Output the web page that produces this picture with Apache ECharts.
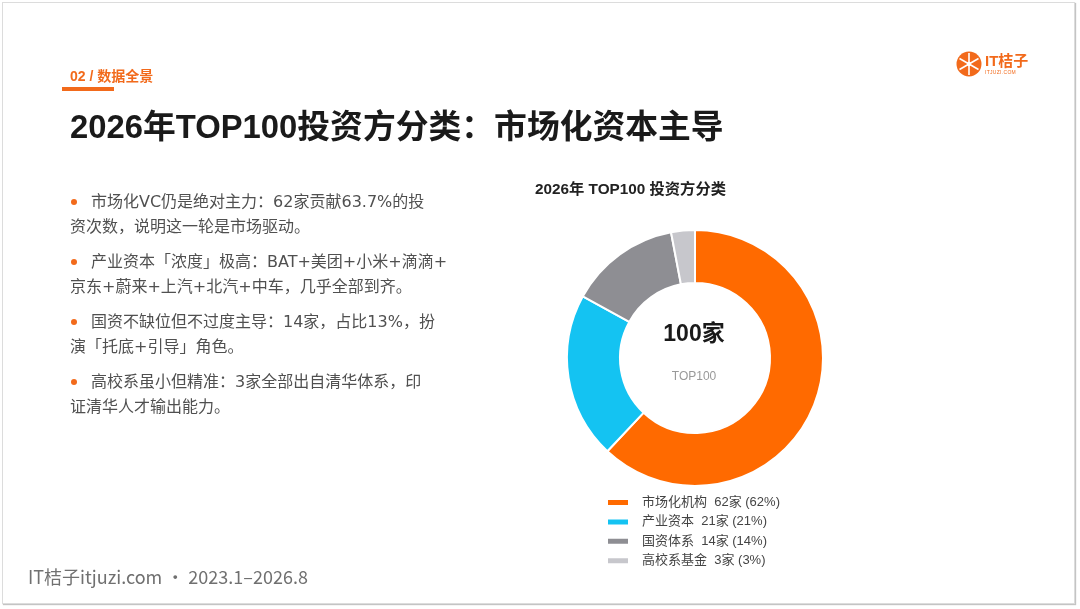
<!DOCTYPE html>
<html>
<head>
<meta charset="utf-8">
<script src="https://cdn.jsdelivr.net/npm/echarts@6/dist/echarts.min.js"></script>
<style>
  html, body { margin:0; padding:0; width:1080px; height:609px; background:#fff; overflow:hidden;
    font-family:"Liberation Sans","Noto Sans CJK SC",sans-serif; }
  #frame { position:absolute; left:2px; top:2px; width:1073px; height:602px; border:1px solid #dcdcdc;
    box-shadow:1px 1px 1px #c4c4c4; box-sizing:border-box; }
  #chart { position:absolute; left:0; top:0; width:1080px; height:609px; }
  .ov { position:absolute; z-index:5; pointer-events:none; white-space:nowrap; }
  #sec { left:70px; top:66px; font-size:14px; font-weight:bold; color:#F26A1B; line-height:20px; }
  #secbar { left:62px; top:87px; width:52px; height:4px; background:#F26A1B; }
  #title { left:70px; top:106px; font-size:32.8px; font-weight:bold; color:#1a1a1a; line-height:42px; }
  #bullets { left:70px; top:189px; font-size:16px; color:#505050; line-height:25px;
    font-family:"DejaVu Sans","Noto Sans CJK SC",sans-serif; }
  #bullets p { margin:0 0 10px 0; position:relative; text-indent:21px; }
  #bullets p::before { content:""; position:absolute; left:1px; top:10px; width:6px; height:6px;
    border-radius:50%; background:#F26A1B; }
  #foot { left:28px; top:564px; font-size:18px; color:#707070; line-height:24px;
    font-family:"Noto Sans CJK SC",sans-serif; }
  #logo { left:956px; top:51px; }
  #logotxt { left:985px; top:52px; font-size:15px; font-weight:bold; color:#F26A1B; line-height:17px; }
  #logosub { left:985px; top:69px; font-size:5px; color:#F26A1B; line-height:6px; letter-spacing:0.3px; }
</style>
</head>
<body>
<div id="frame"></div>
<div id="chart"></div>
<div class="ov" id="sec">02 / 数据全景</div>
<div class="ov" id="secbar"></div>
<div class="ov" id="title">2026年TOP100投资方分类：市场化资本主导</div>
<div class="ov" id="bullets">
  <p>市场化VC仍是绝对主力：62家贡献63.7%的投<br>资次数，说明这一轮是市场驱动。</p>
  <p>产业资本「浓度」极高：BAT+美团+小米+滴滴+<br>京东+蔚来+上汽+北汽+中车，几乎全部到齐。</p>
  <p>国资不缺位但不过度主导：14家，占比13%，扮<br>演「托底+引导」角色。</p>
  <p>高校系虽小但精准：3家全部出自清华体系，印<br>证清华人才输出能力。</p>
</div>
<div class="ov" id="foot">IT桔子itjuzi.com · 2023.1–2026.8</div>
<svg class="ov" id="logo" width="26" height="26" viewBox="0 0 26 26">
  <circle cx="13" cy="13" r="12.5" fill="#F26A1B"/>
  <g stroke="#fff" stroke-width="1.6">
    <line x1="13" y1="2" x2="13" y2="24"/>
    <line x1="3.5" y1="7.5" x2="22.5" y2="18.5"/>
    <line x1="3.5" y1="18.5" x2="22.5" y2="7.5"/>
  </g>
  <circle cx="13" cy="13" r="2.2" fill="#fff"/>
</svg>
<div class="ov" id="logotxt">IT桔子</div>
<div class="ov" id="logosub">ITJUZI.COM</div>
<script>
const categories = ['市场化机构', '产业资本', '国资体系', '高校系基金'];
const counts = [62, 21, 14, 3];
const shares = [62, 21, 14, 3];
const chartTitle = '2026年 TOP100 投资方分类';
const centerMain = '100家';
const centerSub = 'TOP100';
const palette = ['#FF6A00', '#14C3F2', '#8E8E93', '#C7C7CC'];

const FONT = '"Liberation Sans", "Noto Sans CJK SC", sans-serif';
const cx = 695, cy = 358;
const chart = echarts.init(document.getElementById('chart'), null, {renderer: 'canvas'});
chart.setOption({
  animation: false,
  color: palette,
  title: {
    text: chartTitle, left: 530, top: 177,
    textStyle: { fontSize: 15.3, fontWeight: 'bold', color: '#222', fontFamily: FONT }
  },
  legend: {
    orient: 'vertical', left: 601, top: 490, icon: 'rect',
    itemWidth: 22, itemHeight: 7, itemGap: 4.4,
    data: categories,
    formatter: function (name) {
      const i = categories.indexOf(name);
      return name + '  ' + counts[i] + '家 (' + shares[i] + '%)';
    },
    textStyle: { fontSize: 13, color: '#444', lineHeight: 15, padding: [0, 0, 0, 8], fontFamily: FONT }
  },
  graphic: [
    { type: 'text',
      style: { text: centerMain, x: cx - 1, y: 335, align: 'center', verticalAlign: 'middle',
        fontSize: 23, fontWeight: 'bold', fill: '#1a1a1a', fontFamily: FONT } },
    { type: 'text',
      style: { text: centerSub, x: cx - 1, y: 377, align: 'center', verticalAlign: 'middle',
        fontSize: 12, fill: '#999', fontFamily: FONT } }
  ],
  series: [{
    type: 'pie', center: [cx, cy], radius: [75, 128], startAngle: 90, clockwise: true,
    silent: true, label: { show: false }, labelLine: { show: false },
    itemStyle: { borderColor: '#fff', borderWidth: 2 },
    data: categories.map((n, i) => ({ name: n, value: counts[i] }))
  }]
});
</script>
</body>
</html>
